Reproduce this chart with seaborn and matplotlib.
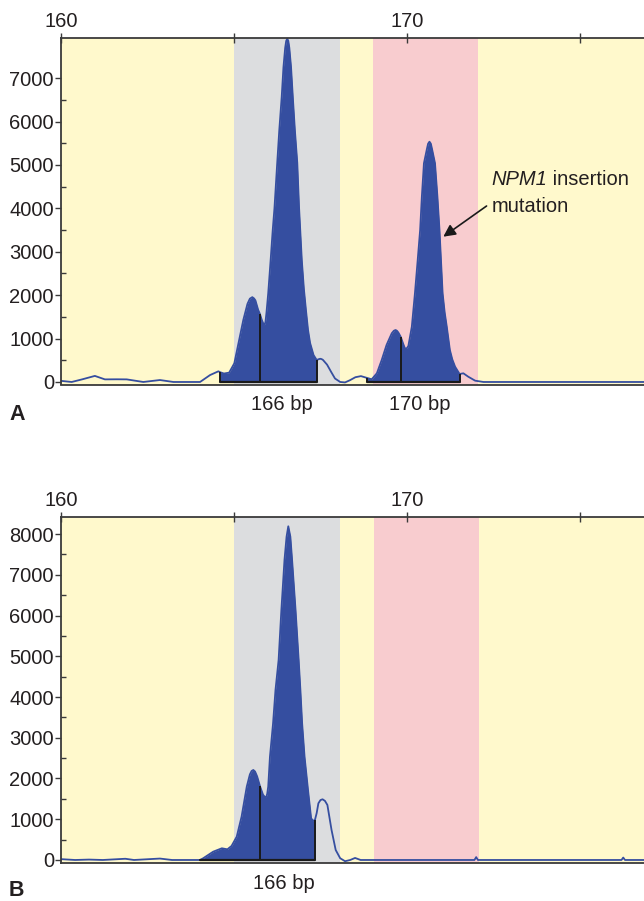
import numpy as np
import matplotlib
matplotlib.use("Agg")
import matplotlib.pyplot as plt
import seaborn as sns

# ---------------- data ----------------
# Panel A trace: size (bp) and fluorescence
trace_a_bp = [160.00, 160.30, 160.60, 160.97, 161.26, 161.60, 161.89, 162.37, 162.85, 163.24,
              163.70, 164.01, 164.30, 164.54, 164.59, 164.70, 164.85, 165.00, 165.12, 165.26,
              165.38, 165.45, 165.52, 165.57, 165.61, 165.69, 165.74, 165.79, 165.84, 165.87,
              165.90, 165.93, 165.98, 166.05, 166.11, 166.16, 166.24, 166.30, 166.37, 166.42,
              166.47, 166.50, 166.53, 166.56, 166.59, 166.64, 166.69, 166.75, 166.82, 166.87,
              166.95, 167.01, 167.07, 167.13, 167.19, 167.29, 167.38, 167.44, 167.48, 167.52,
              167.56, 167.68, 167.80, 167.91, 168.06, 168.20, 168.34, 168.50, 168.66, 168.83,
              168.97, 169.12, 169.26, 169.40, 169.55, 169.61, 169.66, 169.70, 169.74, 169.81,
              169.88, 169.93, 169.98, 170.03, 170.13, 170.22, 170.30, 170.37, 170.42, 170.48,
              170.56, 170.60, 170.64, 170.68, 170.72, 170.80, 170.87, 170.93, 170.97, 171.02,
              171.08, 171.14, 171.23, 171.30, 171.38, 171.51, 171.62, 171.76, 171.96, 172.20,
              176.84]
trace_a_rfu = [25, 0, 60, 140, 60, 62, 60, 0, 45, 0,
               0, 0, 160, 246, 225, 195, 215, 430, 891, 1428,
               1800, 1920, 1955, 1925, 1880, 1659, 1567, 1440, 1340, 1313,
               1380, 1600, 2044, 2811, 3500, 4000, 5046, 5806, 6574, 7250,
               7700, 7860, 7910, 7860, 7700, 7250, 6574, 5806, 5046, 4040,
               2811, 2150, 1659, 1200, 899, 620, 507, 525, 535, 528,
               510, 400, 230, 80, 0, -10, 40, 110, 135, 95,
               62, 200, 507, 853, 1122, 1180, 1198, 1180, 1140, 1040,
               880, 776, 770, 829, 1274, 2044, 2811, 3502, 4270, 5039,
               5346, 5490, 5537, 5490, 5346, 5039, 4270, 3502, 2850, 2044,
               1600, 1274, 737, 520, 353, 184, 200, 122, 30, 0,
               0]

# Panel B trace
trace_b_bp = [160.00, 160.40, 160.80, 161.20, 161.85, 162.10, 162.85, 163.20, 164.01, 164.10,
              164.39, 164.64, 164.80, 164.92, 165.07, 165.21, 165.36, 165.45, 165.50, 165.55,
              165.60, 165.66, 165.74, 165.83, 165.88, 165.92, 165.95, 165.98, 166.03, 166.12,
              166.19, 166.28, 166.36, 166.45, 166.51, 166.56, 166.62, 166.67, 166.77, 166.86,
              166.91, 166.96, 167.03, 167.13, 167.22, 167.28, 167.33, 167.38, 167.43, 167.49,
              167.55, 167.62, 167.69, 167.81, 167.93, 168.06, 168.20, 168.35, 168.49, 168.65,
              171.94, 171.99, 172.04, 176.19, 176.24, 176.29, 176.84]
trace_b_rfu = [20, 0, 10, 0, 30, 0, 35, 0, 0, 42,
               204, 287, 262, 344, 572, 1063, 1800, 2100, 2185, 2209,
               2170, 2050, 1816, 1600, 1550, 1539, 1620, 1800, 2535, 3354,
               4172, 4908, 6135, 7362, 7934, 8190, 7934, 7362, 6135, 4908,
               4172, 3354, 2535, 1718, 1023, 960, 982, 1150, 1391, 1470,
               1490, 1450, 1350, 736, 245, 42, -30, 0, 50, 0,
               0, 70, 0, 0, 60, 0, 0]

# Called peaks: (start, divider, end) of the filled areas
fill_a = [(164.59, 165.74, 167.38), (168.83, 169.81, 171.51)]
fill_b = [(164.01, 165.74, 167.33)]

# Bins (shaded windows)
bins_a = {"grey": (165.00, 168.06), "pink": (169.01, 172.04)}
bins_b = {"grey": (165.00, 168.06), "pink": (169.04, 172.07)}

# Size labels
size_labels_a = ["166 bp", "170 bp"]
size_pos_a = [166.37, 170.37]
size_labels_b = ["166 bp"]
size_pos_b = [166.42]

x_ticks = [160, 165, 170, 175]
x_ticklabels = ["160", "", "170", ""]
yticks_a = [0, 1000, 2000, 3000, 4000, 5000, 6000, 7000]
yticks_b = [0, 1000, 2000, 3000, 4000, 5000, 6000, 7000, 8000]

# ---------------- style ----------------
sns.set_style("ticks")
plt.rcParams["font.family"] = ["Liberation Sans", "DejaVu Sans"]
plt.rcParams["font.size"] = 14.5

YELLOW = "#FFF9CC"
GREY = "#DCDDDF"
PINK = "#F8CCCF"
BLUE = "#354EA0"
TXT = "#231F20"
SPINE = "#3a3a3a"

fig = plt.figure(figsize=(6.44, 9.01), dpi=100)
W, H = 644, 901


def make_ax(top_px, bot_px, ylim, yticks):
    ax = fig.add_axes([61.3 / W, 1 - bot_px / H, (W - 61.3) / W, (bot_px - top_px) / H])
    ax.set_xlim(160, 176.84)
    ax.set_ylim(*ylim)
    ax.set_facecolor(YELLOW)
    ax.spines["right"].set_visible(False)
    for s in ["left", "top", "bottom"]:
        ax.spines[s].set_color(SPINE)
        ax.spines[s].set_linewidth(1.3)
        ax.spines[s].set_zorder(6)
    ax.xaxis.tick_top()
    ax.set_xticks(x_ticks)
    ax.set_xticklabels(x_ticklabels)
    ax.tick_params(axis="x", which="major", direction="inout", length=7.5, width=1.0,
                   colors=SPINE, labelcolor=TXT, pad=1.0, labelsize=14.5)
    ax.set_yticks(yticks)
    ax.set_yticks(np.arange(500, yticks[-1] + 500, 1000), minor=True)
    ax.tick_params(axis="y", which="major", direction="out", length=4.5, width=1.0,
                   colors=SPINE, labelcolor=TXT, pad=0.8, labelsize=14.5)
    ax.tick_params(axis="y", which="minor", direction="in", length=3.6, width=1.0, colors=SPINE)
    ax.set_xlabel("")
    ax.set_ylabel("")
    return ax


def draw_panel(ax, bp, rfu, fills, bins, labels, lpos):
    bp = np.asarray(bp, float)
    rfu = np.asarray(rfu, float)
    ax.axvspan(*bins["grey"], color=GREY, lw=0, zorder=0)
    ax.axvspan(*bins["pink"], color=PINK, lw=0, zorder=0)
    for (s, d, e) in fills:
        m = (bp >= s - 1e-9) & (bp <= e + 1e-9)
        ax.fill_between(bp[m], 0, rfu[m], color=BLUE, lw=0, zorder=2)
        for xx in (s, d, e):
            yy = np.interp(xx, bp, rfu)
            ax.plot([xx, xx], [0, yy], color="#1a1a1a", lw=1.4, zorder=4, solid_capstyle="butt")
        ax.plot([s, e], [0, 0], color="#1a1a1a", lw=1.6, zorder=4)
    sns.lineplot(x=bp, y=rfu, ax=ax, color=BLUE, lw=1.3, zorder=3, sort=False)
    for lbl, p in zip(labels, lpos):
        ax.annotate(lbl, xy=(p, 0), xycoords=("data", "axes fraction"),
                    xytext=(0, -14.5), textcoords="offset points",
                    ha="center", va="center", color=TXT, fontsize=14.5)


# Panel A
axA = make_ax(37.7, 384.5, (-58, 7933), yticks_a)
draw_panel(axA, trace_a_bp, trace_a_rfu, fill_a, bins_a, size_labels_a, size_pos_a)
axA.annotate("", xy=(171.04, 3348), xytext=(172.29, 4055),
             arrowprops=dict(arrowstyle="-|>", color="#1a1a1a", lw=1.2,
                             mutation_scale=18, shrinkA=0, shrinkB=0), zorder=7)
t1 = axA.text(172.43, 4539, "NPM1", style="italic", ha="left", va="baseline",
              color=TXT, fontsize=14.5, zorder=7)
axA.annotate(" insertion", xy=(1, 0), xycoords=t1, ha="left", va="bottom",
             color=TXT, fontsize=14.5, zorder=7)
axA.text(172.43, 3924, "mutation", ha="left", va="baseline", color=TXT,
         fontsize=14.5, zorder=7)

# Panel B
axB = make_ax(516.7, 863.0, (-74, 8425), yticks_b)
draw_panel(axB, trace_b_bp, trace_b_rfu, fill_b, bins_b, size_labels_b, size_pos_b)

fig.text(17 / W, 1 - 414 / H, "A", ha="center", va="center", fontweight="bold",
         fontsize=15.5, color=TXT)
fig.text(16 / W, 1 - 891 / H, "B", ha="center", va="center", fontweight="bold",
         fontsize=15.5, color=TXT)

fig.savefig("out.png", dpi=100)
